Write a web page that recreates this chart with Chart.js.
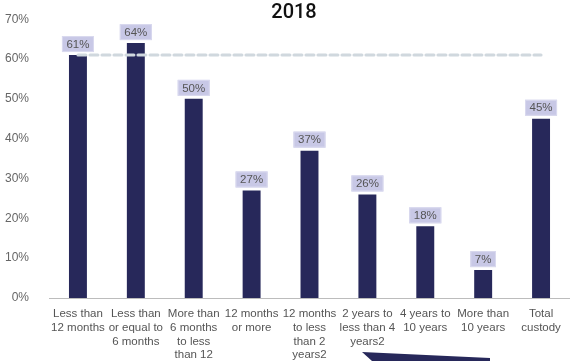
<!DOCTYPE html>
<html>
<head>
<meta charset="utf-8">
<script src="https://cdn.jsdelivr.net/npm/chart.js@4"></script>
<style>
  html, body { margin: 0; padding: 0; background: #fff; }
  #wrap { width: 570px; height: 361px; }
</style>
</head>
<body>
<div id="wrap"><canvas id="custodyChart"></canvas></div>
<script>
// categories (multi-line labels as in the source)
const categories = [
    ['Less than', '12 months'],
    ['Less than', 'or equal to', '6 months'],
    ['More than', '6 months', 'to less', 'than 12'],
    ['12 months', 'or more'],
    ['12 months', 'to less', 'than 2', 'years2'],
    ['2 years to', 'less than 4', 'years2'],
    ['4 years to', '10 years'],
    ['More than', '10 years'],
    ['Total', 'custody']
];
const shares = [61, 64, 50, 27, 37, 26, 18, 7, 45];
const refLine = [61, 61, 61, 61, 61, 61, 61, 61, 61];
const yTicks = [0, 10, 20, 30, 40, 50, 60, 70];
const chartTitle = '2018';

// value boxes above the bars
const valueBoxes = {
    id: 'valueBoxes',
    afterDatasetsDraw(chart) {
        const ctx = chart.ctx;
        const meta = chart.getDatasetMeta(1);
        ctx.save();
        ctx.font = '11.5px "Liberation Sans", Arial, sans-serif';
        ctx.textAlign = 'center';
        ctx.textBaseline = 'middle';
        meta.data.forEach((bar, i) => {
            const txt = shares[i] + '%';
            const w = ctx.measureText(txt).width + 9;
            const h = 16;
            const x = bar.x - w / 2;
            const y = bar.y - h - 3;
            ctx.fillStyle = '#c8c8e6';
            ctx.fillRect(x, y, w, h);
            ctx.strokeStyle = '#dadaef';
            ctx.lineWidth = 1;
            ctx.strokeRect(x + 0.5, y + 0.5, w - 1, h - 1);
            ctx.fillStyle = '#555';
            ctx.fillText(txt, bar.x, y + h / 2 + 0.5);
        });
        ctx.restore();
    }
};

// title drawn without taking space from the plot
const topTitle = {
    id: 'topTitle',
    afterDraw(chart) {
        const ctx = chart.ctx;
        ctx.save();
        ctx.font = '500 20px Roboto, "Liberation Sans", sans-serif';
        ctx.fillStyle = '#111';
        ctx.textAlign = 'center';
        ctx.textBaseline = 'middle';
        ctx.fillText(chartTitle, 294, 13);
        ctx.restore();
    }
};

// stray dark wedge at the bottom edge of the source image
const wedge = {
    id: 'wedge',
    afterDraw(chart) {
        const ctx = chart.ctx;
        ctx.save();
        ctx.fillStyle = '#27285a';
        ctx.beginPath();
        ctx.moveTo(362, 352);
        ctx.lineTo(490, 358);
        ctx.lineTo(490, 361);
        ctx.lineTo(372, 361);
        ctx.closePath();
        ctx.fill();
        ctx.restore();
    }
};

const ctx = document.getElementById('custodyChart').getContext('2d');
new Chart(ctx, {
    data: {
        labels: categories,
        datasets: [{
            type: 'line',
            data: refLine,
            borderColor: '#d0d8de',
            borderWidth: 3,
            borderDash: [8, 4],
            borderCapStyle: 'round',
            pointRadius: 0,
            fill: false,
            order: 0
        }, {
            type: 'bar',
            data: shares,
            backgroundColor: '#27285a',
            categoryPercentage: 1,
            barPercentage: 0.31,
            order: 1
        }]
    },
    options: {
        responsive: true,
        maintainAspectRatio: false,
        animation: false,
        layout: { padding: { top: 15, right: 0, left: 0, bottom: 0 } },
        plugins: {
            legend: { display: false },
            tooltip: { enabled: false },
            title: { display: false }
        },
        scales: {
            x: {
                grid: { display: false },
                border: { display: true, color: '#bcbcbc', width: 1 },
                ticks: {
                    color: '#555',
                    font: { family: '"Liberation Sans", Arial, sans-serif', size: 11.5, lineHeight: 1.2 },
                    maxRotation: 0,
                    autoSkip: false,
                    padding: 1
                },
                afterFit(scale) { scale.height = 63; }
            },
            y: {
                min: 0,
                max: 70,
                afterBuildTicks(scale) { scale.ticks = yTicks.map(v => ({ value: v })); },
                grid: { display: false },
                border: { display: false },
                ticks: {
                    color: '#666',
                    font: { family: '"Liberation Sans", Arial, sans-serif', size: 12 },
                    padding: 12,
                    callback: v => v + '%'
                },
                afterFit(scale) { scale.width = 49; }
            }
        }
    },
    plugins: [valueBoxes, topTitle, wedge]
});
</script>
</body>
</html>
